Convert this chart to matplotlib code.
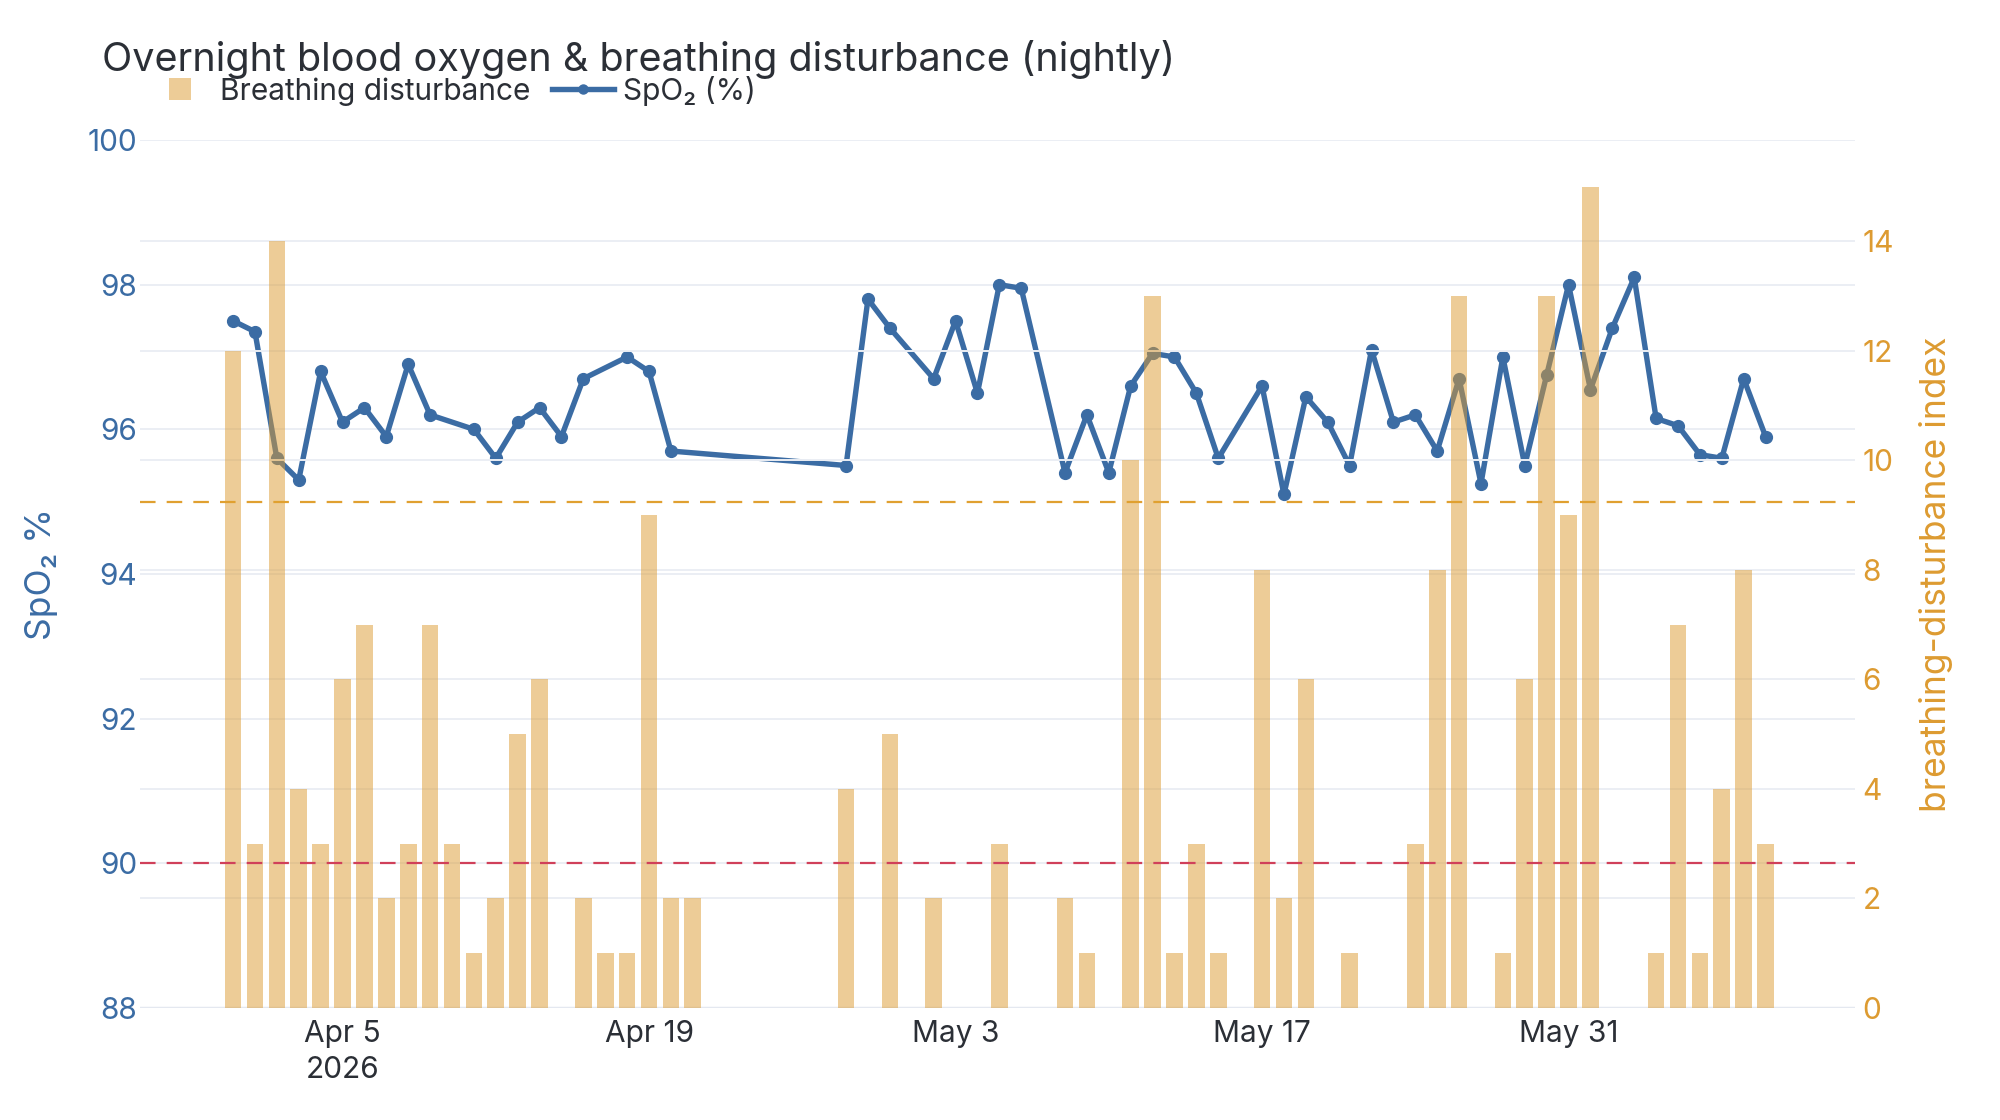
import matplotlib
matplotlib.use("Agg")
import matplotlib.pyplot as plt
import matplotlib.transforms as mtransforms
from matplotlib.lines import Line2D
import pandas as pd

plt.rcParams['font.family'] = ['Inter', 'DejaVu Sans']

# nightly SpO2 (nights without a reading are skipped, the line joins across)
spo2_dates = ['2026-03-31', '2026-04-01', '2026-04-02', '2026-04-03', '2026-04-04',
              '2026-04-05', '2026-04-06', '2026-04-07', '2026-04-08', '2026-04-09',
              '2026-04-11', '2026-04-12', '2026-04-13', '2026-04-14', '2026-04-15',
              '2026-04-16', '2026-04-18', '2026-04-19', '2026-04-20', '2026-04-28',
              '2026-04-29', '2026-04-30', '2026-05-02', '2026-05-03', '2026-05-04',
              '2026-05-05', '2026-05-06', '2026-05-08', '2026-05-09', '2026-05-10',
              '2026-05-11', '2026-05-12', '2026-05-13', '2026-05-14', '2026-05-15',
              '2026-05-17', '2026-05-18', '2026-05-19', '2026-05-20', '2026-05-21',
              '2026-05-22', '2026-05-23', '2026-05-24', '2026-05-25', '2026-05-26',
              '2026-05-27', '2026-05-28', '2026-05-29', '2026-05-30', '2026-05-31',
              '2026-06-01', '2026-06-02', '2026-06-03', '2026-06-04', '2026-06-05',
              '2026-06-06', '2026-06-07', '2026-06-08', '2026-06-09']
spo2 = [97.5, 97.35, 95.6, 95.3, 96.8,
        96.1, 96.3, 95.9, 96.9, 96.2,
        96.0, 95.6, 96.1, 96.3, 95.9,
        96.7, 97.0, 96.8, 95.7, 95.5,
        97.8, 97.4, 96.7, 97.5, 96.5,
        98.0, 97.95, 95.4, 96.2, 95.4,
        96.6, 97.05, 97.0, 96.5, 95.6,
        96.6, 95.1, 96.45, 96.1, 95.5,
        97.1, 96.1, 96.2, 95.7, 96.7,
        95.25, 97.0, 95.5, 96.75, 98.0,
        96.55, 97.4, 98.1, 96.15, 96.05,
        95.65, 95.6, 96.7, 95.9]

# breathing-disturbance index per night
bdi_dates = ['2026-03-31', '2026-04-01', '2026-04-02', '2026-04-03', '2026-04-04',
             '2026-04-05', '2026-04-06', '2026-04-07', '2026-04-08', '2026-04-09',
             '2026-04-10', '2026-04-11', '2026-04-12', '2026-04-13', '2026-04-14',
             '2026-04-16', '2026-04-17', '2026-04-18', '2026-04-19', '2026-04-20',
             '2026-04-21', '2026-04-28', '2026-04-30', '2026-05-02', '2026-05-05',
             '2026-05-08', '2026-05-09', '2026-05-11', '2026-05-12', '2026-05-13',
             '2026-05-14', '2026-05-15', '2026-05-17', '2026-05-18', '2026-05-19',
             '2026-05-21', '2026-05-24', '2026-05-25', '2026-05-26', '2026-05-28',
             '2026-05-29', '2026-05-30', '2026-05-31', '2026-06-01', '2026-06-04',
             '2026-06-05', '2026-06-06', '2026-06-07', '2026-06-08', '2026-06-09']
bdi = [12, 3, 14, 4, 3,
       6, 7, 2, 3, 7,
       3, 1, 2, 5, 6,
       2, 1, 1, 9, 2,
       2, 4, 5, 2, 3,
       2, 1, 10, 13, 1,
       3, 1, 8, 2, 6,
       1, 3, 8, 13, 1,
       6, 13, 9, 15, 1,
       7, 1, 4, 8, 3]

spo2_dates = pd.to_datetime(spo2_dates)
bdi_dates = pd.to_datetime(bdi_dates)

BLUE = '#3B6CA4'
AMBER = '#DD9B31'
RED = '#D0405A'
GRID = '#EBEEF4'
TXT = '#2B2F36'

fig = plt.figure(figsize=(20, 11.2), dpi=100)
ax = fig.add_axes([0.07, 0.1, 0.8575, 0.775])
ax2 = ax.twinx()

ax.plot(spo2_dates, spo2, color=BLUE, lw=3.9, marker='o', ms=8.5, zorder=3)
ax2.bar(bdi_dates, bdi, width=0.76, color=AMBER, alpha=0.5, lw=0, zorder=2)

# reference lines on the SpO2 scale, drawn above the bars
trans = mtransforms.blended_transform_factory(ax2.transAxes, ax.transData)
ax2.plot([0, 1], [95, 95], transform=trans, color='#E0A030', lw=1.6,
         dashes=(7, 5), zorder=5)
ax2.plot([0, 1], [90, 90], transform=trans, color=RED, lw=1.6,
         dashes=(7, 5), zorder=5)

ax.set_ylim(88, 100)
ax.set_yticks(range(88, 101, 2))
ax2.set_ylim(0, 15.85)
ax2.set_yticks(range(0, 15, 2))
ax.set_xlim(pd.Timestamp('2026-03-26 18:00'), pd.Timestamp('2026-06-13 02:00'))

ticks = pd.to_datetime(['2026-04-05', '2026-04-19', '2026-05-03', '2026-05-17', '2026-05-31'])
ax.set_xticks(ticks)
ax.set_xticklabels(['Apr 5\n2026', 'Apr 19', 'May 3', 'May 17', 'May 31'])

for a in (ax, ax2):
    for s in a.spines.values():
        s.set_visible(False)
    a.grid(axis='y', color=GRID, lw=1.4)
    a.set_axisbelow(True)
ax.grid(axis='x', visible=False)
ax2.axhline(0, color='#E4E8F0', lw=2.5, zorder=1)

ax.tick_params(axis='y', length=0, pad=2, labelsize=21.5, labelcolor=BLUE)
ax2.tick_params(axis='y', length=0, pad=5.5, labelsize=21.5, labelcolor=AMBER)
ax.tick_params(axis='x', length=0, pad=9, labelsize=21.5, labelcolor=TXT)
for lab in ax.get_xticklabels():
    lab.set_linespacing(1.35)
    lab.set_verticalalignment('top')

ax.set_ylabel('SpO₂ %', color=BLUE, fontsize=25.5, labelpad=21)
ax2.set_ylabel('breathing-disturbance index', color=AMBER, fontsize=25.5, labelpad=18)

fig.text(0.051, 0.947, 'Overnight blood oxygen & breathing disturbance (nightly)',
         fontsize=28.5, color=TXT, va='center', ha='left')

handles = [Line2D([], [], color=AMBER, alpha=0.5, lw=0, marker='s', ms=16, mew=0),
           Line2D([], [], color=BLUE, lw=3.9, marker='o', ms=6.5)]
fig.legend(handles, ['Breathing disturbance', 'SpO₂ (%)'], loc='center left',
           bbox_to_anchor=(0.0743, 0.919), ncol=2, frameon=False, fontsize=21.5,
           borderpad=0, borderaxespad=0, handlelength=2.1, handletextpad=0.3,
           columnspacing=0.7, labelcolor=TXT)

fig.savefig('out.png', dpi=100)
